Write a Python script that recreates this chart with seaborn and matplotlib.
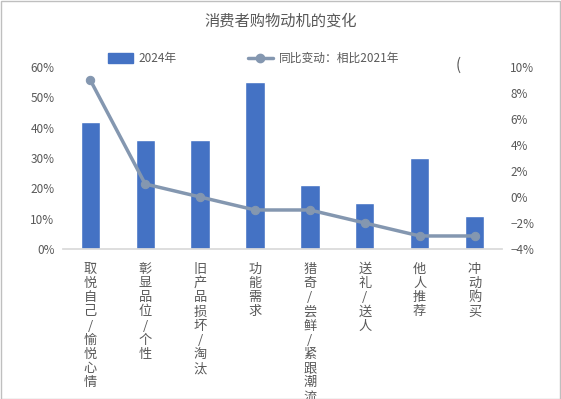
import matplotlib
matplotlib.use("Agg")
import matplotlib.pyplot as plt
from matplotlib.lines import Line2D
from matplotlib.patches import Patch
import numpy as np
import pandas as pd
import seaborn as sns

categories = ["取悦自己/愉悦心情", "彰显品位/个性", "旧产品损坏/淘汰", "功能需求",
              "猎奇/尝鲜/紧跟潮流", "送礼/送人", "他人推荐", "冲动购买"]
share_2024 = [0.42, 0.36, 0.36, 0.55, 0.21, 0.15, 0.30, 0.11]
change_vs_2021 = [0.09, 0.01, 0.00, -0.01, -0.01, -0.02, -0.03, -0.03]

BAR = "#4472C4"
LINE = "#8497B0"
TXT = "#595959"

sns.set_theme(style="white")
plt.rcParams["font.family"] = ["Noto Sans CJK SC", "DejaVu Sans"]

df = pd.DataFrame({"cat": categories, "share": share_2024, "chg": change_vs_2021})

fig = plt.figure(figsize=(5.61, 3.99), dpi=100)
ax = fig.add_axes([0.112, 0.376, 0.783, 0.456])
sns.barplot(data=df, x="cat", y="share", color=BAR, width=0.35, saturation=1, ax=ax)
ax.set_ylim(0, 0.6)
ax.set_xlim(-0.5, 7.5)
ax.set_yticks(np.arange(0, 0.61, 0.1))
ax.set_yticklabels([f"{int(round(v * 100))}%" for v in np.arange(0, 0.61, 0.1)])
ax.set_xticks(range(len(categories)))
ax.set_xticklabels(["\n".join(c) for c in categories], va="top", linespacing=1.12)
ax.set_xlabel("")
ax.set_ylabel("")

ax2 = ax.twinx()
sns.lineplot(x=np.arange(len(categories)), y=df["chg"], color=LINE, lw=2.5,
             marker="o", markersize=6, markeredgecolor=LINE, ax=ax2)
ax2.set_ylim(-0.04, 0.10)
ax2.set_yticks(np.arange(-0.04, 0.101, 0.02))
ax2.set_yticklabels([f"{int(round(v * 100))}%".replace("-", "−") for v in np.arange(-0.04, 0.101, 0.02)])
ax2.set_ylabel("")

for a in (ax, ax2):
    for s in a.spines.values():
        s.set_visible(False)
    a.tick_params(length=0, colors=TXT, labelsize=8.5, pad=6)
ax.spines["bottom"].set_visible(True)
ax.spines["bottom"].set_color("#D9D9D9")
ax.tick_params(axis="x", pad=10, labelsize=9.5)

fig.text(0.5, 0.948, "消费者购物动机的变化", ha="center", va="center", fontsize=11, color=TXT)
handles = [Patch(facecolor=BAR, edgecolor=BAR),
           Line2D([0], [0], color=LINE, lw=2.5, marker="o", markersize=6)]
fig.legend(handles, ["2024年", "同比变动：相比2021年"], loc="center", bbox_to_anchor=(0.452, 0.853),
           ncol=2, frameon=False, fontsize=8.5, labelcolor=TXT, columnspacing=6,
           handlelength=2.1, handleheight=0.9, handletextpad=0.5)
fig.text(0.812, 0.836, "(", fontsize=11, color=TXT, va="center")

fig.patches.append(plt.Rectangle((0.001, 0.001), 0.997, 0.997, transform=fig.transFigure,
                                 fill=False, edgecolor="#BFBFBF", lw=1))
fig.savefig("out.png", dpi=100)
